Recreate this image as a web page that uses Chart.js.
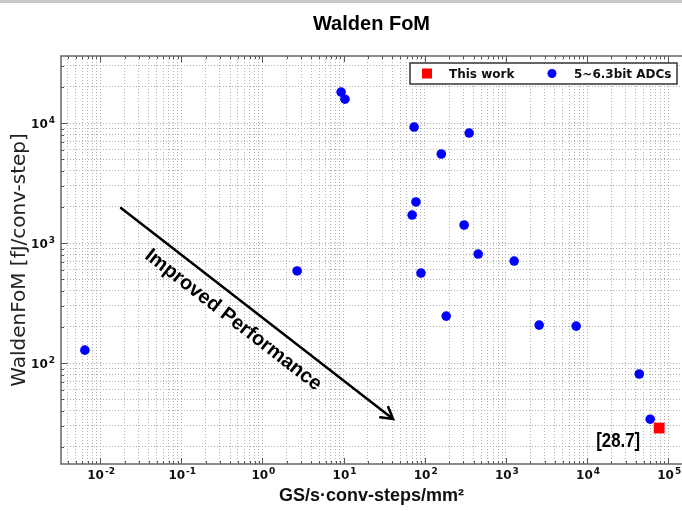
<!DOCTYPE html>
<html>
<head>
<meta charset="utf-8">
<script src="https://cdn.jsdelivr.net/npm/chart.js@4.4.1/dist/chart.umd.min.js"></script>
<style>
  html, body { margin: 0; padding: 0; background: #fff; overflow: hidden; }
  #wrap { width: 682px; height: 511px; }
</style>
</head>
<body>
<div id="wrap"><canvas id="waldenChart" width="682" height="511"></canvas></div>
<script>
// Adatok (leolvasva az ábráról)
const adcSpeedArea = [0.0065, 2.68, 9.33, 10.4, 74, 353, 160, 78, 70, 306, 456, 90, 1265, 184, 2570, 7350, 44000, 60000];
const adcWaldenFom = [128, 585, 18100, 15800, 9260, 8250, 5520, 2200, 1710, 1413, 809, 562, 708, 246, 207, 203, 81, 34];
const thisWorkSpeedArea = [77400];
const thisWorkFom = [28.7];
const seriesLabels = ['This work', '5~6.3bit ADCs'];
const thisWorkLabel = '[28.7]';

const X_MIN = 0.0033, X_MAX = 148000;
const Y_MIN = 14.4, Y_MAX = 36200;

function decadeExp(v) {
    const e = Math.log10(v);
    return Math.abs(e - Math.round(e)) < 1e-6 ? Math.round(e) : null;
}
// címke szövegként: 10^n
function powLabel(v) {
    const e = decadeExp(v);
    return e === null ? '' : '10^' + e;
}

// minden 1..9 * 10^n osztás (rácsvonalakhoz)
function logTicks(min, max) {
    const ticks = [];
    for (let e = Math.floor(Math.log10(min)); e <= Math.ceil(Math.log10(max)); e++) {
        for (let m = 1; m < 10; m++) {
            const v = m * Math.pow(10, e);
            if (v >= min && v <= max) ticks.push({ value: v });
        }
    }
    return ticks;
}

// 10 + felső index rajzolása
function drawPow(ctx, e, x, y, align) {
    const base = '10', ex = String(e);
    ctx.font = 'bold 12px "DejaVu Sans", sans-serif';
    const wb = ctx.measureText(base).width;
    ctx.font = 'bold 9px "DejaVu Sans", sans-serif';
    const we = ctx.measureText(ex).width;
    const w = wb + we + 1;
    const left = align === 'right' ? x - w : x - w / 2;
    ctx.textAlign = 'left';
    ctx.textBaseline = 'alphabetic';
    ctx.font = 'bold 12px "DejaVu Sans", sans-serif';
    ctx.fillText(base, left, y);
    ctx.font = 'bold 9px "DejaVu Sans", sans-serif';
    ctx.fillText(ex, left + wb + 1, y - 5);
}

// keret, osztásjelek, tengelyfeliratok, nyíl, felirat, jelmagyarázat
const decorPlugin = {
    id: 'decor',
    beforeDraw(chart) {
        const ctx = chart.ctx;
        ctx.save();
        ctx.fillStyle = '#c8c8c8';
        ctx.fillRect(0, 0, chart.width, 3);
        ctx.restore();
    },
    afterDatasetsDraw(chart) {
        const ctx = chart.ctx;
        const a = chart.chartArea;
        const xs = chart.scales.x, ys = chart.scales.y;
        ctx.save();

        // belső osztásjelek
        ctx.strokeStyle = '#555';
        ctx.lineWidth = 1;
        xs.ticks.forEach(t => {
            const px = Math.round(xs.getPixelForValue(t.value)) + 0.5;
            const len = decadeExp(t.value) !== null ? 6 : 3;
            ctx.beginPath();
            ctx.moveTo(px, a.bottom); ctx.lineTo(px, a.bottom - len);
            ctx.moveTo(px, a.top); ctx.lineTo(px, a.top + len);
            ctx.stroke();
        });
        ys.ticks.forEach(t => {
            const py = Math.round(ys.getPixelForValue(t.value)) + 0.5;
            const len = decadeExp(t.value) !== null ? 6 : 3;
            ctx.beginPath();
            ctx.moveTo(a.left, py); ctx.lineTo(a.left + len, py);
            ctx.stroke();
        });

        // tengelycímkék felső indexszel
        ctx.fillStyle = '#111';
        xs.ticks.forEach(t => {
            const e = decadeExp(t.value);
            if (e !== null) drawPow(ctx, e, xs.getPixelForValue(t.value) + 1, a.bottom + 15, 'center');
        });
        ys.ticks.forEach(t => {
            const e = decadeExp(t.value);
            if (e !== null) drawPow(ctx, e, a.left - 6, ys.getPixelForValue(t.value) + 5, 'right');
        });

        // keret
        ctx.strokeStyle = '#666';
        ctx.lineWidth = 1.5;
        ctx.strokeRect(a.left, a.top, a.right - a.left + 5, a.bottom - a.top);

        // nyíl
        const x1 = xs.getPixelForValue(0.0181), y1 = ys.getPixelForValue(1958);
        const x2 = xs.getPixelForValue(40.8), y2 = ys.getPixelForValue(34.1);
        const ang = Math.atan2(y2 - y1, x2 - x1);
        ctx.strokeStyle = '#000';
        ctx.lineWidth = 2.5;
        ctx.lineCap = 'round';
        ctx.beginPath();
        ctx.moveTo(x1, y1); ctx.lineTo(x2, y2);
        const hl = 13, ha = Math.PI / 6;
        ctx.moveTo(x2 - hl * Math.cos(ang - ha), y2 - hl * Math.sin(ang - ha));
        ctx.lineTo(x2, y2);
        ctx.lineTo(x2 - hl * Math.cos(ang + ha), y2 - hl * Math.sin(ang + ha));
        ctx.stroke();

        // "Improved Performance"
        const tx = xs.getPixelForValue(0.436), ty = ys.getPixelForValue(228);
        ctx.translate(tx, ty);
        ctx.rotate(ang);
        ctx.fillStyle = '#000';
        ctx.font = 'bold 20px "Liberation Sans", Arial, sans-serif';
        ctx.textAlign = 'center';
        ctx.textBaseline = 'middle';
        ctx.fillText('Improved Performance', 0, 0);
        ctx.setTransform(1, 0, 0, 1, 0, 0);

        // [28.7] (keskenyített betű)
        ctx.translate(xs.getPixelForValue(24200), ys.getPixelForValue(22.0));
        ctx.scale(0.84, 1);
        ctx.font = 'bold 20px "Liberation Sans", Arial, sans-serif';
        ctx.fillText(thisWorkLabel, 0, 0);
        ctx.setTransform(1, 0, 0, 1, 0, 0);

        // jelmagyarázat
        const lw = 267, lh = 21;
        const lx = a.right - 5 - lw, ly = a.top + 7;
        ctx.fillStyle = '#fff';
        ctx.fillRect(lx, ly, lw, lh);
        ctx.strokeStyle = '#333';
        ctx.lineWidth = 1.5;
        ctx.strokeRect(lx, ly, lw, lh);
        const ds = chart.data.datasets;
        const cy = ly + lh / 2;
        ctx.fillStyle = ds[0].backgroundColor;
        ctx.fillRect(lx + 12, cy - 5, 10, 10);
        ctx.fillStyle = ds[1].backgroundColor;
        ctx.beginPath();
        ctx.arc(lx + 142, cy, 4.5, 0, Math.PI * 2);
        ctx.fill();
        ctx.fillStyle = '#111';
        ctx.font = 'bold 12px "DejaVu Sans", sans-serif';
        ctx.textAlign = 'left';
        ctx.textBaseline = 'middle';
        ctx.fillText(ds[0].label, lx + 39, cy + 1);
        ctx.fillText(ds[1].label, lx + 164, cy + 1);
        ctx.restore();
    }
};

const ctx = document.getElementById('waldenChart').getContext('2d');
new Chart(ctx, {
    type: 'scatter',
    data: {
        datasets: [{
            label: seriesLabels[0],
            data: thisWorkSpeedArea.map((x, i) => ({ x: x, y: thisWorkFom[i] })),
            pointStyle: 'rect',
            pointRadius: 7.6,
            backgroundColor: '#ff0000',
            borderColor: '#ff0000',
            borderWidth: 0
        }, {
            label: seriesLabels[1],
            data: adcSpeedArea.map((x, i) => ({ x: x, y: adcWaldenFom[i] })),
            pointStyle: 'circle',
            pointRadius: 4.8,
            backgroundColor: '#0000ff',
            borderColor: '#0000ff',
            borderWidth: 0
        }]
    },
    options: {
        responsive: false,
        animation: false,
        layout: { padding: 0, autoPadding: false },
        plugins: {
            legend: { display: false },
            tooltip: { enabled: false },
            title: {
                display: true,
                fullSize: false,
                text: 'Walden FoM',
                color: '#000',
                font: { family: '"Liberation Sans", Arial, sans-serif', size: 20, weight: 'bold' },
                padding: { top: 12, bottom: 20 }
            }
        },
        scales: {
            x: {
                type: 'logarithmic',
                min: X_MIN,
                max: X_MAX,
                afterBuildTicks: s => { s.ticks = logTicks(X_MIN, X_MAX); },
                afterFit: s => { s.height = 47; s.paddingLeft = 0; s.paddingRight = 0; },
                grid: { color: '#b0b0b0', lineWidth: 1, drawTicks: false },
                border: { display: false, dash: [1, 2] },
                ticks: {
                    display: false,
                    autoSkip: false,
                    callback: v => powLabel(v)
                },
                title: {
                    display: true,
                    text: 'GS/s·conv-steps/mm²',
                    color: '#111',
                    font: { family: '"Liberation Sans", Arial, sans-serif', size: 18, weight: 'bold' },
                    padding: { top: 0, bottom: 4 }
                }
            },
            y: {
                type: 'logarithmic',
                min: Y_MIN,
                max: Y_MAX,
                afterBuildTicks: s => { s.ticks = logTicks(Y_MIN, Y_MAX); },
                afterFit: s => { s.width = 61; s.paddingTop = 0; s.paddingBottom = 0; },
                grid: { color: '#b0b0b0', lineWidth: 1, drawTicks: false },
                border: { display: false, dash: [1, 2] },
                ticks: {
                    display: false,
                    autoSkip: false,
                    callback: v => powLabel(v)
                },
                title: {
                    display: true,
                    text: 'WaldenFoM [fJ/conv-step]',
                    color: '#222',
                    font: { family: '"DejaVu Sans", sans-serif', size: 20 },
                    padding: { top: 8, bottom: 0 }
                }
            }
        }
    },
    plugins: [decorPlugin]
});
</script>
</body>
</html>
